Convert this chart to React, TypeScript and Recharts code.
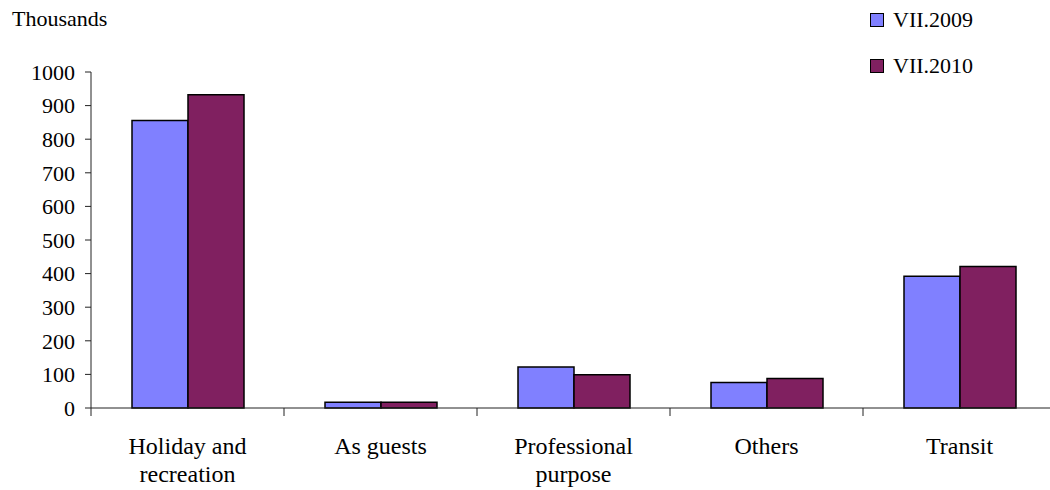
import React from 'react';
import { BarChart, Bar, XAxis, YAxis, Legend } from 'recharts';

const categories = ['Holiday and\nrecreation', 'As guests', 'Professional\npurpose', 'Others', 'Transit'];
const seriesNames = ['VII.2009', 'VII.2010'];
const values2009 = [856, 17, 122, 76, 392];
const values2010 = [932, 17, 99, 88, 421];
const yTicks = [0, 100, 200, 300, 400, 500, 600, 700, 800, 900, 1000];
const colors = ['#8080FF', '#802060'];

const data = categories.map((c, i) => ({
  name: c,
  [seriesNames[0]]: values2009[i],
  [seriesNames[1]]: values2010[i],
}));

const CHART_W = 1070;
const CHART_H = 490;
const MARGIN = { top: 72, right: 14, bottom: 12, left: 31 };
const Y_AXIS_W = 60;
const PLOT_W = CHART_W - MARGIN.left - MARGIN.right - Y_AXIS_W;
const BAND = PLOT_W / categories.length;
const FONT = "Liberation Serif, DejaVu Serif, Times New Roman, serif";
const AXIS_COLOR = '#222';

const CategoryTick = (props: any) => {
  const { x, y, payload } = props;
  const lines = String(payload.value).split('\n');
  const bx = x - BAND / 2;
  return (
    <g>
      <line x1={bx} y1={y - 8} x2={bx} y2={y} stroke={AXIS_COLOR} strokeWidth={1} />
      <text x={x} y={y} textAnchor="middle" style={{ fontFamily: FONT }} fontSize={24} fill="#000">
        {lines.map((l, i) => (
          <tspan key={i} x={x} y={y + 38 + i * 28}>
            {l}
          </tspan>
        ))}
      </text>
    </g>
  );
};

const LegendContent = () => (
  <div style={{ fontFamily: FONT, fontSize: 22, color: '#000' }}>
    {seriesNames.map((n, i) => (
      <div key={n} style={{ display: 'flex', alignItems: 'center', height: 46 }}>
        <div
          style={{
            width: 12,
            height: 12,
            background: colors[i],
            border: '1.5px solid #000',
            marginRight: 9,
          }}
        />
        <span>{n}</span>
      </div>
    ))}
  </div>
);

export default function App() {
  return (
    <div
      style={{
        position: 'absolute',
        left: 0,
        top: 0,
        width: 1050,
        height: 490,
        overflow: 'hidden',
        background: '#fff',
        fontFamily: FONT,
      }}
    >
      <div
        style={{
          position: 'absolute',
          left: 12,
          top: 8,
          fontFamily: FONT,
          fontSize: 22,
          lineHeight: '22px',
          color: '#000',
        }}
      >
        Thousands
      </div>
      <BarChart
        width={CHART_W}
        height={CHART_H}
        data={data}
        margin={MARGIN}
        barGap={0}
        barSize={56}
        style={{ fontFamily: FONT }}
      >
        <XAxis
          dataKey="name"
          interval={0}
          height={70}
          tickLine={false}
          tickSize={8}
          tickMargin={0}
          tick={<CategoryTick />}
          axisLine={{ stroke: AXIS_COLOR, strokeWidth: 1 }}
        />
        <YAxis
          width={Y_AXIS_W}
          domain={[0, 1000]}
          ticks={yTicks}
          interval={0}
          tickSize={6}
          tickMargin={10}
          tick={{ fontFamily: FONT, fontSize: 22, fill: '#000', style: { fontFamily: FONT } }}
          tickLine={{ stroke: AXIS_COLOR, strokeWidth: 1 }}
          axisLine={{ stroke: AXIS_COLOR, strokeWidth: 1 }}
        />
        <Legend
          layout="vertical"
          align="center"
          verticalAlign="middle"
          content={<LegendContent />}
          wrapperStyle={{ top: -3, left: 870, width: 'auto', height: 'auto' }}
        />
        {seriesNames.map((n, i) => (
          <Bar
            key={n}
            dataKey={n}
            fill={colors[i]}
            stroke="#000"
            strokeWidth={1.5}
            isAnimationActive={false}
          />
        ))}
      </BarChart>
    </div>
  );
}
